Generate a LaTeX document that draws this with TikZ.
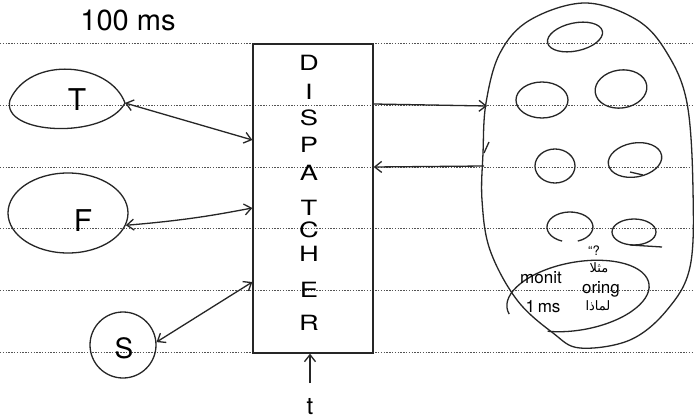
\documentclass[tikz,border=0pt]{standalone}
\usepackage{fontspec}
\setmainfont{TeX Gyre Heros}
\newfontfamily\arabicfont[Script=Arabic]{DejaVu Sans}
\TeXXeTstate=1
\usetikzlibrary{arrows.meta,shapes.geometric}
\newcommand{\wide}[1]{\scalebox{1.3}[1]{#1}}

\begin{document}
\begin{tikzpicture}[x=1pt,y=-1pt,
  pen/.style={line width=1.3pt, black!85},
  rule/.style={gray!65!black, line width=0.6pt, dash pattern=on 1.4pt off 1.4pt},
  tip/.tip={Straight Barb[length=7pt,width=11pt]},
  both/.style={pen, tip-tip},
  onearrow/.style={pen, -tip},
  letter/.style={font=\fontsize{21}{21}\selectfont, inner sep=0pt},
  big/.style={font=\fontsize{30}{30}\selectfont, inner sep=0pt},
  note/.style={font=\fontsize{17}{17}\selectfont, inner sep=0pt},
  arab/.style={font=\fontsize{13}{13}\arabicfont, inner sep=0pt}]
\useasboundingbox (0,0) rectangle (694,420);
\fill[white] (0,0) rectangle (694,420);

% ruled paper
\foreach \y in {43,105,167,228,290,352}
  \draw[rule] (0,\y) -- (694,\y);

% heading
\node[font=\fontsize{29}{29}\selectfont, inner sep=0pt] (ms) at (128,20) {100 ms};

% dispatcher box with stacked letters
\node[pen, draw, rectangle, minimum width=120pt, minimum height=309pt, inner sep=0pt]
  (disp) at (313,198.5) {};
\foreach \ch/\yy [count=\i] in {D/63,I/92,S/118,P/145,A/173,T/208,C/230,H/254,E/290,R/323}
  \node[letter] (l\i) at (309,\yy) {\wide{\ch}};

% input t
\node[font=\fontsize{24}{24}\selectfont, inner sep=0pt] (t) at (310,407) {t};
\coordinate (tTail) at (310,383);
\draw[onearrow] (tTail) -- (disp.south -| tTail);

% T (teardrop)
\coordinate (Ttip) at (125,103);
\draw[pen] (Ttip) .. controls (110,62) and (30,55) .. (10,100)
                  .. controls (0,135) and (105,140) .. (Ttip);
\node[big] (Tl) at (77,100) {T};
\draw[both] (Ttip) -- (disp.west |- 0,140);

% F
\node[pen, draw, ellipse, minimum width=120pt, minimum height=80pt, inner sep=0pt] (F) at (68,213) {};
\node[big] (Fl) at (83,221) {F};
\draw[both] (F.-12) .. controls (190,220) and (220,214) .. (disp.west |- 0,208);

% S
\node[pen, draw, circle, minimum size=66pt, inner sep=0pt] (S) at (123,345) {};
\node[font=\fontsize{28}{28}\selectfont, inner sep=0pt] (Sl) at (124,348) {S};
\draw[both] (S.5) -- (disp.west |- 0,282);

% pool of workers
\draw[pen] plot[smooth cycle, tension=0.6] coordinates {
  (585,3) (637,20) (667,53) (687,103) (693,190) (690,267) (667,310)
  (630,340) (580,348) (553,333) (517,300) (490,250) (482,200)
  (483,153) (486,103) (500,53) (530,20)};
\coordinate (E1) at (487,106);
\coordinate (E2) at (484,166);
\draw[onearrow] (disp.east |- 0,104) -- (E1);
\draw[onearrow] (E2) -- (disp.east |- 0,167);
\draw[pen] (489,142) -- (484,153);

\draw[pen] (575,37) ellipse [x radius=28, y radius=14, rotate=12];
\draw[pen] (542,100) ellipse [x radius=26, y radius=18];
\draw[pen] (621,89) ellipse [x radius=26, y radius=19, rotate=8];
\draw[pen] (555,166) ellipse [x radius=20, y radius=17];
\draw[pen] (635,160) ellipse [x radius=27, y radius=17, rotate=10];
\draw[pen] (643,175) -- (630,172);
\draw[pen] (562.1,241.1) arc [start angle=110, end angle=430, x radius=23, y radius=15];
\draw[pen] (634,232) ellipse [x radius=22, y radius=13];
\draw[pen] (630,245) -- (662,247);

% monitoring cell
\begin{scope}[shift={(578,296)}, rotate=10]
  \draw[pen] (-70.9,5.9) arc [start angle=170, end angle=480, x radius=72, y radius=34];
\end{scope}
\node[note, font=\fontsize{13}{13}\selectfont] (q) at (594,251) {“?};
\node[note] (m1) at (541,278) {monit};
\node[note] (m2) at (601,289) {oring};
\node[arab] (a1) at (599,268) {\beginR مثلا\endR};
\node[note] (m3) at (543,307) {1\,ms};
\node[arab] (a2) at (598,306) {\beginR لماذا\endR};
\end{tikzpicture}
\end{document}
